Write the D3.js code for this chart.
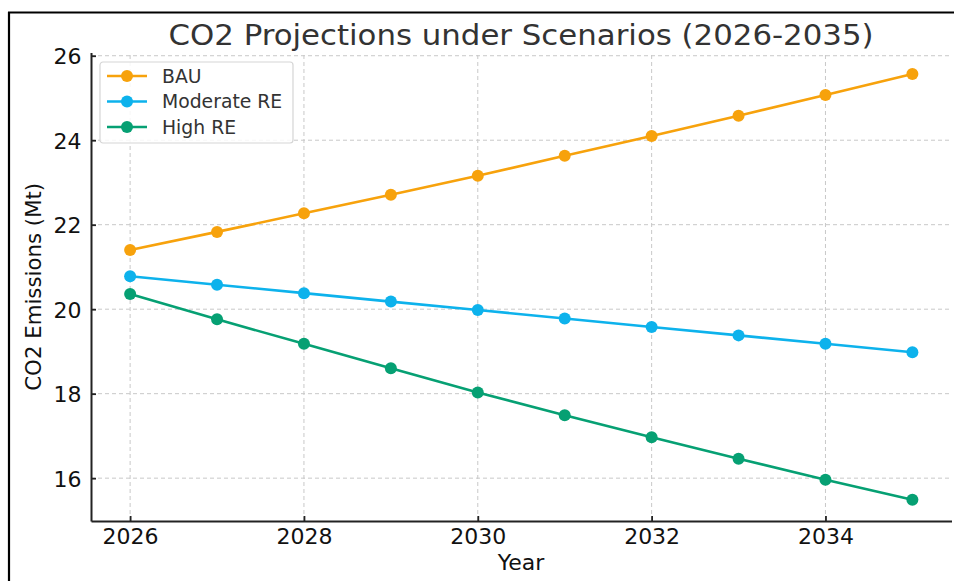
<!DOCTYPE html>
<html>
<head>
<meta charset="utf-8">
<script src="https://cdn.jsdelivr.net/npm/d3@7"></script>
<style>
html,body{margin:0;padding:0;background:#fff;}
svg{display:block;}
text{font-family:"DejaVu Sans",sans-serif;}
</style>
</head>
<body>
<svg id="chart" width="954" height="581"></svg>
<script>
const years = [2026, 2027, 2028, 2029, 2030, 2031, 2032, 2033, 2034, 2035];
const bau = [21.40, 21.83, 22.27, 22.71, 23.16, 23.63, 24.10, 24.58, 25.07, 25.57];
const moderate = [20.78, 20.58, 20.38, 20.18, 19.98, 19.78, 19.58, 19.38, 19.18, 18.98];
const high = [20.36, 19.76, 19.18, 18.60, 18.03, 17.49, 16.97, 16.46, 15.96, 15.49];
const seriesNames = ["BAU", "Moderate RE", "High RE"];
const seriesColors = ["#F7A20C", "#0DB2EC", "#06A073"];
const xTicks = [2026, 2028, 2030, 2032, 2034];
const yTicks = [16, 18, 20, 22, 24, 26];

const svg = d3.select("#chart");
const W = 954, H = 581;
const m = {left: 91, right: 2.5, top: 52.6, bottom: 60};

// frame
svg.append("path").attr("d", `M8,12.5 H${W} M9,12 V${H}`)
  .attr("stroke", "#000").attr("stroke-width", 2.2).attr("fill", "none");

const series = [bau, moderate, high];
const all = series.flat();
const yMin = d3.min(all), yMax = d3.max(all);
const yPad = (yMax - yMin) * 0.05;
const xPad = (d3.max(years) - d3.min(years)) * 0.05;

const x = d3.scaleLinear().domain([d3.min(years) - xPad, d3.max(years) + xPad]).range([m.left, W - m.right]);
const y = d3.scaleLinear().domain([yMin - yPad, yMax + yPad]).range([H - m.bottom, m.top]);

const g = svg.append("g");

// grid
g.append("g").selectAll("line").data(xTicks).join("line")
  .attr("x1", d => x(d)).attr("x2", d => x(d))
  .attr("y1", y.range()[0]).attr("y2", y.range()[1])
  .attr("stroke", "#c8c8c8").attr("stroke-width", 1).attr("stroke-dasharray", "4,3");
g.append("g").selectAll("line").data(yTicks).join("line")
  .attr("y1", d => y(d)).attr("y2", d => y(d))
  .attr("x1", x.range()[0]).attr("x2", x.range()[1])
  .attr("stroke", "#c8c8c8").attr("stroke-width", 1).attr("stroke-dasharray", "4,3");

// axes
const xAxis = d3.axisBottom(x).tickValues(xTicks).tickFormat(d3.format("d")).tickSizeInner(-5).tickSizeOuter(0).tickPadding(7.5);
const yAxis = d3.axisLeft(y).tickValues(yTicks).tickFormat(d3.format("d")).tickSizeInner(-5).tickSizeOuter(0).tickPadding(9.5);

const gx = svg.append("g").attr("transform", `translate(0,${H - m.bottom})`).call(xAxis);
const gy = svg.append("g").attr("transform", `translate(${m.left},0)`).call(yAxis);
[gx, gy].forEach(a => {
  a.select(".domain").attr("stroke", "#222").attr("stroke-width", 2);
  a.selectAll(".tick line").attr("stroke", "#222").attr("stroke-width", 1.8);
  a.selectAll(".tick text").attr("fill", "#111").style("font-size", "22px").style("font-family", "DejaVu Sans");
});
gy.selectAll(".tick text").attr("dy", "0.36em");

// lines
const line = d3.line().x((d, i) => x(years[i])).y(d => y(d));
series.forEach((s, k) => {
  svg.append("path").datum(s).attr("d", line)
    .attr("fill", "none").attr("stroke", seriesColors[k]).attr("stroke-width", 2.6);
  svg.append("g").selectAll("circle").data(s).join("circle")
    .attr("cx", (d, i) => x(years[i])).attr("cy", d => y(d)).attr("r", 6)
    .attr("fill", seriesColors[k]);
});

// title & labels
svg.append("text").attr("x", 521).attr("y", 45).attr("text-anchor", "middle")
  .style("font-size", "28px").attr("textLength", 705).attr("lengthAdjust", "spacingAndGlyphs")
  .attr("fill", "#333")
  .text("CO2 Projections under Scenarios (2026-2035)");
svg.append("text").attr("x", 521).attr("y", 570).attr("text-anchor", "middle")
  .style("font-size", "22px").attr("fill", "#111").text("Year");
svg.append("text").attr("transform", `translate(41,${(y.range()[0] + y.range()[1]) / 2}) rotate(-90)`)
  .attr("text-anchor", "middle")
  .style("font-size", "21.3px").attr("fill", "#111").text("CO2 Emissions (Mt)");

// legend
const lg = svg.append("g").attr("transform", "translate(100,62)");
lg.append("rect").attr("width", 193).attr("height", 81).attr("rx", 3)
  .attr("fill", "#fff").attr("fill-opacity", 0.85).attr("stroke", "#d5d5d5").attr("stroke-width", 1.2);
seriesNames.forEach((n, k) => {
  const yy = 14 + k * 25.5;
  lg.append("line").attr("x1", 7).attr("x2", 47).attr("y1", yy).attr("y2", yy)
    .attr("stroke", seriesColors[k]).attr("stroke-width", 2.6);
  lg.append("circle").attr("cx", 27).attr("cy", yy).attr("r", 6).attr("fill", seriesColors[k]);
  lg.append("text").attr("x", 62).attr("y", yy).attr("dy", "0.36em")
    .style("font-size", "18.8px").attr("fill", "#333").text(n);
});
</script>
</body>
</html>
